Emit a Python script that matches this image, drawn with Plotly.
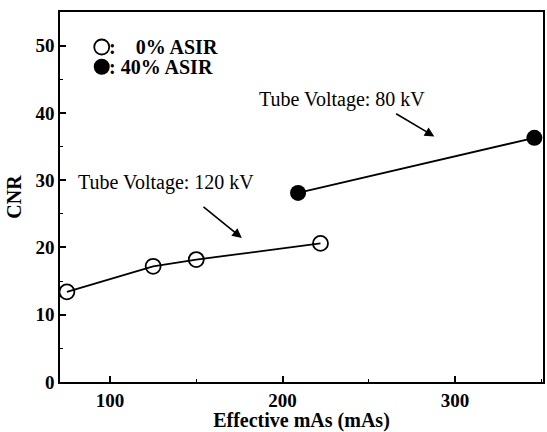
import plotly.graph_objects as go

mas_120 = [75, 125, 150, 222]
cnr_120 = [13.4, 17.2, 18.2, 20.6]
mas_80 = [209, 346]
cnr_80 = [28.1, 36.3]
legend_labels = [":\u2007\u20070% ASIR", ": 40% ASIR"]
x_ticks = [100, 200, 300]
y_ticks = [0, 10, 20, 30, 40, 50]

FONT = "Liberation Serif"
FS = 19

fig = go.Figure()
fig.add_trace(go.Scatter(x=mas_120, y=cnr_120, mode="lines+markers", showlegend=False,
                         line=dict(color="black", width=1.8),
                         marker=dict(symbol="circle-open", size=15, color="black", line=dict(width=1.8))))
fig.add_trace(go.Scatter(x=mas_80, y=cnr_80, mode="lines+markers", showlegend=False,
                         line=dict(color="black", width=1.8),
                         marker=dict(symbol="circle", size=16, color="black")))
# legend markers (one legend box each for exact placement)
fig.add_trace(go.Scatter(x=[None], y=[None], mode="markers", name="", legend="legend",
                         marker=dict(symbol="circle-open", size=15, color="black", line=dict(width=1.8))))
fig.add_trace(go.Scatter(x=[None], y=[None], mode="markers", name="", legend="legend2",
                         marker=dict(symbol="circle", size=16, color="black")))

leg_font = dict(family=FONT, size=20, color="black", weight="bold")
fig.add_annotation(xref="paper", yref="paper", x=0.097, y=0.9054, xanchor="left", yanchor="middle",
                   text=legend_labels[0], showarrow=False, font=leg_font)
fig.add_annotation(xref="paper", yref="paper", x=0.097, y=0.852, xanchor="left", yanchor="middle",
                   text=legend_labels[1], showarrow=False, font=leg_font)

ann_font = dict(family=FONT, size=20, color="black")
fig.add_annotation(x=234.6, y=42.0, text="Tube Voltage: 80 kV", showarrow=False, font=ann_font)
fig.add_annotation(x=132.7, y=29.6, text="Tube Voltage: 120 kV", showarrow=False, font=ann_font)
fig.add_annotation(x=288, y=36.5, ax=265, ay=40.0, axref="x", ayref="y", text="",
                   showarrow=True, arrowhead=2, arrowsize=1.2, arrowwidth=1.6, arrowcolor="black")
fig.add_annotation(x=176.4, y=21.4, ax=153.3, ay=26.2, axref="x", ayref="y", text="",
                   showarrow=True, arrowhead=2, arrowsize=1.2, arrowwidth=1.6, arrowcolor="black")

axis_common = dict(showline=True, linecolor="black", linewidth=1.5, mirror=True,
                   ticks="inside", ticklen=6, tickwidth=1.5, tickcolor="black",
                   showgrid=False, zeroline=False,
                   tickfont=dict(family=FONT, size=FS, color="black", weight="bold"),
                   minor=dict(ticks="inside", ticklen=3, tickwidth=1.2, tickcolor="black"))

fig.update_xaxes(range=[71, 351], tickvals=x_ticks, minor_dtick=50, minor_tick0=0,
                 title=dict(text="Effective mAs (mAs)", standoff=4,
                            font=dict(family=FONT, size=20, color="black", weight="bold")),
                 **axis_common)
fig.update_yaxes(range=[0, 55], tickvals=y_ticks, minor_dtick=5, minor_tick0=0,
                 title=dict(text="CNR", standoff=8,
                            font=dict(family=FONT, size=20, color="black", weight="bold")),
                 **axis_common)

leg_common = dict(xanchor="left", yanchor="middle", bgcolor="rgba(0,0,0,0)",
                  itemwidth=30, font=dict(family=FONT, size=12, color="black"))
fig.update_layout(width=547, height=432, margin=dict(l=60, r=2, t=12, b=50),
                  plot_bgcolor="white", paper_bgcolor="white",
                  legend=dict(x=0.045, y=0.9054, **leg_common),
                  legend2=dict(x=0.045, y=0.852, **leg_common))

fig.write_html("out.html")
